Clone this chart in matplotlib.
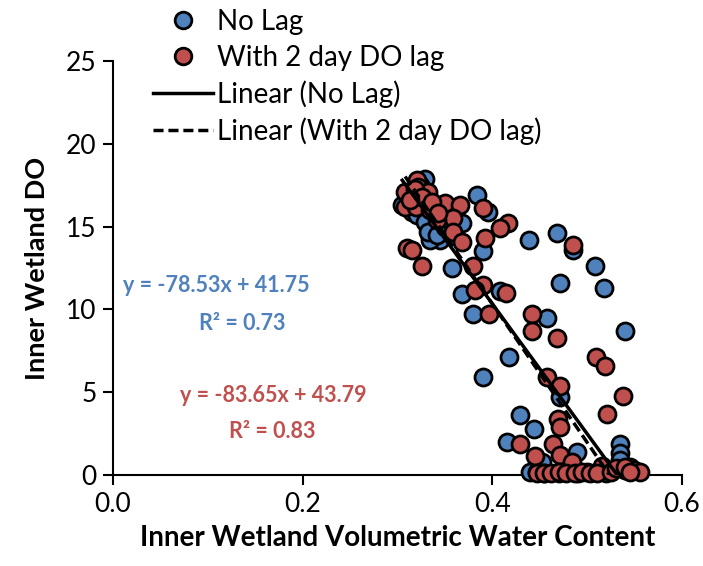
import numpy as np
import matplotlib
matplotlib.use("Agg")
import matplotlib.pyplot as plt
from matplotlib.lines import Line2D

plt.rcParams['font.family'] = ['Lato', 'DejaVu Sans']

# Inner wetland volumetric water content vs dissolved oxygen (no lag)
vwc_nolag = [0.329, 0.324, 0.3135, 0.308, 0.3156, 0.3208, 0.329, 0.3398, 0.345, 0.3346,
             0.305, 0.3325, 0.342, 0.350, 0.384, 0.395, 0.3578, 0.368, 0.3905, 0.3578,
             0.368, 0.4084, 0.380, 0.3905, 0.439, 0.4686, 0.4855, 0.5087, 0.4718, 0.518,
             0.458, 0.540, 0.418, 0.4718, 0.4296, 0.4443, 0.4158, 0.4897, 0.5351, 0.5351,
             0.4528, 0.440, 0.447, 0.455, 0.470, 0.490, 0.500, 0.520, 0.540, 0.545,
             0.535, 0.4855]
do_nolag = [17.9, 17.5, 16.9, 16.3, 15.9, 15.7, 15.3, 14.8, 14.2, 14.2,
            16.3, 14.7, 14.5, 15.0, 16.9, 15.9, 15.2, 15.2, 13.5, 12.5,
            10.9, 11.1, 9.7, 5.9, 14.2, 14.6, 13.6, 12.6, 11.6, 11.3,
            9.5, 8.7, 7.1, 4.7, 3.6, 2.8, 2.0, 1.4, 1.9, 1.3,
            0.8, 0.2, 0.2, 0.1, 0.15, 0.1, 0.2, 0.1, 0.3, 0.5,
            0.9, 0.2]

# Same water content with dissolved oxygen lagged by two days
vwc_lag = [0.308, 0.321, 0.322, 0.332, 0.308, 0.319, 0.3346, 0.350, 0.366, 0.3905,
           0.4169, 0.408, 0.358, 0.342, 0.358, 0.368, 0.3926, 0.310, 0.3156, 0.326,
           0.380, 0.3905, 0.382, 0.414, 0.396, 0.318, 0.326, 0.313, 0.336, 0.343,
           0.4855, 0.4422, 0.4422, 0.4686, 0.5098, 0.519, 0.458, 0.4718, 0.538, 0.521,
           0.4697, 0.4718, 0.4296, 0.4644, 0.4454, 0.4718, 0.4844, 0.516, 0.549, 0.556,
           0.447, 0.455, 0.462, 0.470, 0.478, 0.487, 0.495, 0.503, 0.510, 0.525,
           0.530, 0.540, 0.545]
do_lag = [17.1, 17.8, 17.4, 17.1, 16.2, 16.2, 16.0, 16.4, 16.3, 16.1,
          15.2, 14.9, 15.5, 15.4, 14.7, 14.1, 14.3, 13.7, 13.6, 12.6,
          12.6, 11.5, 11.2, 11.0, 9.7, 17.3, 16.8, 16.6, 16.5, 15.8,
          13.9, 9.7, 8.7, 8.3, 7.1, 6.6, 5.9, 5.4, 4.8, 3.7,
          3.4, 2.9, 1.9, 1.9, 1.15, 1.2, 0.8, 0.55, 0.3, 0.2,
          0.1, 0.15, 0.1, 0.2, 0.15, 0.1, 0.2, 0.1, 0.15, 0.2,
          0.4, 0.5, 0.2]

# Linear fits (slope, intercept, R²)
fit_nolag = (-78.53, 41.75, 0.73)
fit_lag = (-83.65, 43.79, 0.83)

x_ticks = [0.0, 0.2, 0.4, 0.6]
y_ticks = [0, 5, 10, 15, 20, 25]

blue = '#4F81BD'
red = '#C0504D'
dash = (0, (2.9, 1.4))

fig = plt.figure(figsize=(7.03, 5.66), dpi=100)
ax = fig.add_axes([113 / 703, 1 - 475 / 566, (682 - 113) / 703, (475 - 61) / 566])

ms = 150
ax.scatter(vwc_nolag, do_nolag, s=ms, c=blue, edgecolors='black', linewidths=2,
           zorder=3, clip_on=False)
ax.scatter(vwc_lag, do_lag, s=ms, c=red, edgecolors='black', linewidths=2,
           zorder=4, clip_on=False)

xs = np.linspace(min(vwc_nolag), max(vwc_nolag), 200)
ax.plot(xs, fit_nolag[0] * xs + fit_nolag[1], color='black', lw=2.5, zorder=5)
xs = np.linspace(min(vwc_lag), max(vwc_lag), 200)
ax.plot(xs, fit_lag[0] * xs + fit_lag[1], color='black', lw=2.5, ls=dash, zorder=5)

ax.set_xlim(0, 0.6)
ax.set_ylim(0, 25)
ax.set_xticks(x_ticks)
ax.set_xticklabels([f'{v:.1f}' for v in x_ticks])
ax.set_yticks(y_ticks)
ax.spines['top'].set_visible(False)
ax.spines['right'].set_visible(False)
for s in ('left', 'bottom'):
    ax.spines[s].set_linewidth(1.5)
ax.tick_params(direction='out', length=7, width=1.5, labelsize=19, pad=5)

ax.set_xlabel('Inner Wetland Volumetric Water Content', fontsize=20, fontweight='bold', labelpad=6)
ax.set_ylabel('Inner Wetland DO', fontsize=19.5, fontweight='bold', labelpad=12)

ax.text(216 / 703, 1 - 285 / 566, f'y = {fit_nolag[0]:.2f}x + {fit_nolag[1]:.2f}',
        transform=fig.transFigure, color=blue, fontsize=15.5, fontweight='bold',
        ha='center', va='center')
ax.text(242 / 703, 1 - 323 / 566, f'R² = {fit_nolag[2]:.2f}',
        transform=fig.transFigure, color=blue, fontsize=15.5, fontweight='bold',
        ha='center', va='center')
ax.text(273 / 703, 1 - 395 / 566, f'y = {fit_lag[0]:.2f}x + {fit_lag[1]:.2f}',
        transform=fig.transFigure, color=red, fontsize=15.5, fontweight='bold',
        ha='center', va='center')
ax.text(272 / 703, 1 - 432 / 566, f'R² = {fit_lag[2]:.2f}',
        transform=fig.transFigure, color=red, fontsize=15.5, fontweight='bold',
        ha='center', va='center')

handles = [
    Line2D([], [], ls='none', marker='o', markersize=12, markerfacecolor=blue,
           markeredgecolor='black', markeredgewidth=2),
    Line2D([], [], ls='none', marker='o', markersize=12, markerfacecolor=red,
           markeredgecolor='black', markeredgewidth=2),
    Line2D([], [], color='black', lw=2.5),
    Line2D([], [], color='black', lw=2.5, ls=dash),
]
labels = ['No Lag', 'With 2 day DO lag', 'Linear (No Lag)', 'Linear (With 2 day DO lag)']
fig.legend(handles, labels, loc='upper left', bbox_to_anchor=(142 / 703, 1 + 2 / 566),
           frameon=False, fontsize=20, handlelength=2.15, handletextpad=0.15,
           labelspacing=0.34, borderaxespad=0)

fig.savefig('out.png', dpi=100)
